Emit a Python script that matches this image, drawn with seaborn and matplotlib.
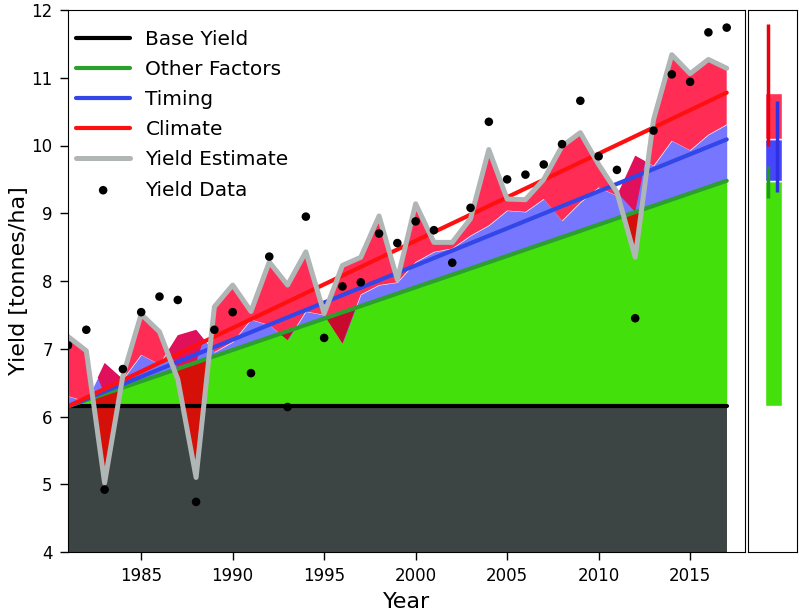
import numpy as np
import matplotlib
matplotlib.use("Agg")
import matplotlib.pyplot as plt
import seaborn as sns

# yearly values
years = np.arange(1981, 2018)
base_yield = 6.15
yield_estimate = [7.18, 6.97, 5.02, 6.60, 7.51, 7.25, 6.55, 5.10, 7.62, 7.94,
                  7.55, 8.28, 7.94, 8.43, 7.52, 8.23, 8.35, 8.96, 8.02, 9.14,
                  8.57, 8.57, 8.92, 9.94, 9.21, 9.20, 9.50, 9.99, 10.19, 9.72,
                  9.31, 8.35, 10.38, 11.34, 11.06, 11.27, 11.14]
# top of the timing band (base + other factors + timing)
timing_top = [6.30, 6.22, 6.79, 6.55, 6.91, 6.77, 7.20, 7.28, 6.95, 7.10,
              7.43, 7.35, 7.13, 7.55, 7.50, 7.08, 7.80, 7.94, 7.98, 8.28,
              8.43, 8.48, 8.67, 8.82, 9.04, 9.02, 9.21, 8.89, 9.16, 9.38,
              9.26, 9.85, 9.70, 10.07, 9.93, 10.16, 10.31]
yield_data = [7.05, 7.28, 4.92, 6.70, 7.54, 7.77, 7.72, 4.74, 7.28, 7.54,
              6.64, 8.36, 6.14, 8.95, 7.16, 7.92, 7.98, 8.70, 8.56, 8.88,
              8.75, 8.27, 9.08, 10.35, 9.50, 9.57, 9.72, 10.02, 10.66, 9.84,
              9.64, 7.45, 10.22, 11.05, 10.94, 11.67, 11.74]

# trend lines: value in 1981 and in 2017
trend_start = 6.15
trend_end = {"Other Factors": 9.48, "Timing": 10.09, "Climate": 10.78}

# side panel ranges
err_other = [9.22, 9.70]
err_timing = [9.31, 10.65]
err_climate = [9.99, 11.79]

sns.set_style("ticks")
plt.rcParams['font.family'] = ['DejaVu Sans']
plt.rcParams.update({"text.color": "black", "axes.labelcolor": "black",
                     "xtick.color": "black", "ytick.color": "black",
                     "axes.edgecolor": "black"})

fig = plt.figure(figsize=(8.02, 6.15), dpi=100)
ax = fig.add_axes([68 / 802, 63 / 615, 677 / 802, 542 / 615])
ax2 = fig.add_axes([748 / 802, 63 / 615, 49 / 802, 542 / 615])

E = np.array(yield_estimate)
T = np.array(timing_top)
G = np.linspace(trend_start, trend_end["Other Factors"], len(years))

# stacked areas
ax.fill_between(years, 4, base_yield, color="#3d4444", lw=0, zorder=1)
ax.fill_between(years, base_yield, G, color="#44e00c", lw=0, zorder=1)
ax.fill_between(years, G, T, color="#7676ff", lw=0, zorder=1)
ax.fill_between(years, T, E, where=E >= T, interpolate=True,
                color="#ff2d55", lw=0, zorder=1)
lo = np.maximum(E, G)
ax.fill_between(years, lo, T, where=T > lo, interpolate=True,
                color="#e0105a", lw=0, zorder=1)
hi = np.minimum(T, G)
ax.fill_between(years, E, hi, where=hi > E, interpolate=True,
                color="#d41008", lw=0, zorder=1)
hi2 = np.minimum(G, E)
ax.fill_between(years, T, hi2, where=hi2 > T, interpolate=True,
                color="#c80a2c", lw=0, zorder=1)

# lines
sns.lineplot(x=years, y=[base_yield] * len(years), ax=ax, color="black",
             lw=3, label="Base Yield")
colors = {"Other Factors": "#2ca02c", "Timing": "#3346e8", "Climate": "#ff1010"}
for name, end in trend_end.items():
    sns.lineplot(x=[years[0], years[-1]], y=[trend_start, end], ax=ax,
                 color=colors[name], lw=3, label=name)
sns.lineplot(x=years, y=yield_estimate, ax=ax, color="#b0b5b5", lw=3.6,
             label="Yield Estimate")
sns.scatterplot(x=years, y=yield_data, ax=ax, color="black", s=38,
                edgecolor="none", label="Yield Data", zorder=5)

ax.set_xlim(1981, 2018)
ax.set_ylim(4, 12)
ax.set_xticks([1985, 1990, 1995, 2000, 2005, 2010, 2015])
ax.set_yticks(range(4, 13))
ax.tick_params(labelsize=12, length=6, width=1, pad=5)
ax.set_xlabel("Year", fontsize=16, labelpad=5)
ax.set_ylabel("Yield [tonnes/ha]", fontsize=16, labelpad=2)
for s in ax.spines.values():
    s.set_visible(True)
    s.set_color("black")

ax.legend(loc="upper left", frameon=False, fontsize=14.5, handlelength=2.7,
          handletextpad=0.75, labelspacing=0.55, borderaxespad=0.6,
          bbox_to_anchor=(-0.018, 1.0))

# side panel: decomposition in the last year
bx = 0.515
ax2.bar(bx, trend_end["Other Factors"] - base_yield, bottom=base_yield,
        width=0.35, color="#44e00c")
ax2.bar(bx, trend_end["Timing"] - trend_end["Other Factors"],
        bottom=trend_end["Other Factors"], width=0.35, color="#4646ff")
ax2.bar(bx, trend_end["Climate"] - trend_end["Timing"],
        bottom=trend_end["Timing"], width=0.35, color="#ff3355")
ax2.vlines(0.417, *err_climate, color="#e8000f", lw=2.5)
ax2.vlines(0.596, *err_timing, color="#3030e0", lw=2.5)
ax2.vlines(0.417, *err_other, color="#1f9a1f", lw=2.5)
ax2.set_xlim(0, 1)
ax2.set_ylim(4, 12)
ax2.set_xticks([])
ax2.set_yticks([])
for s in ax2.spines.values():
    s.set_visible(True)
    s.set_color("black")

fig.savefig("out.png", dpi=100)
